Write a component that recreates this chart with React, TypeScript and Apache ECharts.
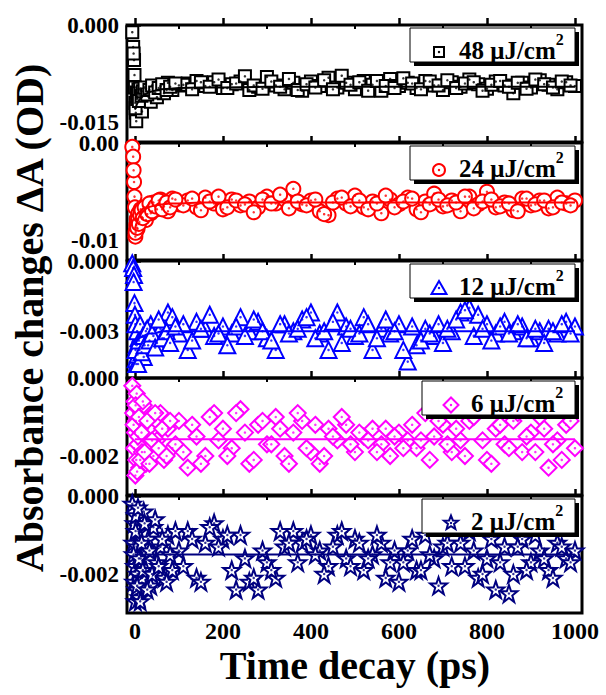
import React, { useEffect, useRef } from "react";
import * as echarts from "echarts";

// ---- data ----
const T = [
  -6, -4, -2, -1, 0, 1, 2, 3, 4, 6,
  8, 10, 13, 16, 20, 25, 30, 36, 42, 50,
  58, 66, 75, 85, 100, 120, 140, 160, 180, 200,
  220, 240, 260, 280, 300, 320, 340, 360, 380, 400,
  420, 440, 460, 480, 500, 520, 540, 560, 580, 600,
  620, 640, 660, 680, 700, 720, 740, 760, 780, 800,
  820, 840, 860, 880, 900, 920, 940, 960, 980, 1000,
];
const T_B = [
  110, 130, 150, 170, 190, 210, 230, 250, 270, 290,
  310, 330, 350, 370, 390, 410, 430, 450, 470, 490,
  510, 530, 550, 570, 590, 610, 630, 650, 670, 690,
  710, 730, 750, 770, 790, 810, 830, 850, 870, 890,
  910, 930, 950, 970, 990,
];
const T_E = [-3, 1.5, 5, 7, 9, 12, 15, 18, 22, 28, 33, 39, 46, 54, 62, 72, 80, 92];

const A48 = [
  -0.0011, -0.0034, -0.0054, -0.0077, -0.0096, -0.012, -0.0135, -0.0148, -0.0104, -0.0112,
  -0.0099, -0.0108, -0.0101, -0.0133, -0.0106, -0.0098, -0.011, -0.0118, -0.0102, -0.0111,
  -0.0094, -0.0105, -0.0089, -0.01, -0.0093, -0.009, -0.0086, -0.0094, -0.0088, -0.0097,
  -0.0091, -0.0087, -0.01, -0.0095, -0.008, -0.0093, -0.0099, -0.0089, -0.0101, -0.0087,
  -0.0094, -0.0081, -0.0096, -0.0089, -0.0099, -0.0086, -0.0092, -0.0101, -0.0083, -0.0094,
  -0.0089, -0.0097, -0.0086, -0.0093, -0.01, -0.0088, -0.0095, -0.0084, -0.0091, -0.0098,
  -0.0087, -0.0093, -0.0105, -0.0089, -0.0096, -0.0085, -0.0092, -0.0099, -0.0088, -0.0094,
];
const A48_B = [
  -0.0092, -0.0099, -0.0088, -0.0095, -0.0084, -0.0097, -0.009, -0.0079, -0.0093, -0.0098,
  -0.0087, -0.0095, -0.0083, -0.01, -0.0091, -0.0096, -0.0085, -0.0099, -0.0078, -0.0092,
  -0.0088, -0.0101, -0.0086, -0.0094, -0.0097, -0.0082, -0.009, -0.0099, -0.0087, -0.0093,
  -0.0085, -0.0097, -0.009, -0.0088, -0.0101, -0.0092, -0.0086, -0.0095, -0.0089, -0.0098,
  -0.0084, -0.0091, -0.0096, -0.0087, -0.0093,
];
const A48_E = [-0.0044, -0.0128, -0.0114, -0.0105, -0.0117, -0.0098, -0.0109, -0.0102, -0.0096, -0.0107, -0.01, -0.0093, -0.0104, -0.0097, -0.0091, -0.01, -0.0095, -0.009];

const A24 = [
  -0.0004, -0.0014, -0.004, -0.0055, -0.0066, -0.0096, -0.009, -0.0084, -0.0078, -0.0088,
  -0.0072, -0.0081, -0.0068, -0.0076, -0.007, -0.0079, -0.0064, -0.0072, -0.0061, -0.0068,
  -0.0058, -0.0065, -0.007, -0.0057, -0.0063, -0.0059, -0.0066, -0.0056, -0.0062, -0.0068,
  -0.0058, -0.0064, -0.006, -0.0066, -0.0055, -0.0062, -0.0058, -0.0047, -0.0063, -0.0059,
  -0.007, -0.0074, -0.0057, -0.0062, -0.0054, -0.0066, -0.006, -0.0072, -0.0058, -0.0063,
  -0.0056, -0.0068, -0.006, -0.0052, -0.0065, -0.0059, -0.007, -0.0055, -0.0063, -0.005,
  -0.0066, -0.0061, -0.0069, -0.0057, -0.0064, -0.0059, -0.0067, -0.0056, -0.0062, -0.0059,
];
const A24_B = [
  -0.0064, -0.0057, -0.0069, -0.006, -0.0055, -0.0066, -0.0059, -0.0063, -0.0071, -0.0058,
  -0.0062, -0.0053, -0.0067, -0.006, -0.0064, -0.0058, -0.0073, -0.0061, -0.0056, -0.0065,
  -0.0059, -0.0068, -0.0062, -0.0054, -0.0066, -0.006, -0.0057, -0.0071, -0.0063, -0.0058,
  -0.0064, -0.0061, -0.0055, -0.0067, -0.006, -0.0058, -0.0065, -0.0062, -0.007, -0.0057,
  -0.0063, -0.0059, -0.0066, -0.0061, -0.0064,
];
const A24_E = [-0.0028, -0.0092, -0.0087, -0.0079, -0.0083, -0.0074, -0.0069, -0.0077, -0.0066, -0.0073, -0.0062, -0.007, -0.0065, -0.0059, -0.0068, -0.0061, -0.0066, -0.0058];

const A12 = [
  -0.0001, -0.0003, -0.0006, -0.0018, -0.0023, -0.0027, -0.0042, -0.0044, -0.0036, -0.004,
  -0.0033, -0.0038, -0.0031, -0.0035, -0.0041, -0.003, -0.0036, -0.0027, -0.0032, -0.0035,
  -0.0029, -0.0033, -0.0022, -0.0024, -0.0031, -0.0038, -0.0026, -0.0029, -0.0032, -0.0028,
  -0.0031, -0.0024, -0.003, -0.0026, -0.0033, -0.0038, -0.0027, -0.003, -0.0025, -0.0022,
  -0.0031, -0.0038, -0.0022, -0.0028, -0.0032, -0.0024, -0.0038, -0.0029, -0.0031, -0.0027,
  -0.0043, -0.0036, -0.0029, -0.0032, -0.0035, -0.003, -0.0022, -0.002, -0.0023, -0.0027,
  -0.0031, -0.0026, -0.003, -0.0028, -0.0033, -0.003, -0.0029, -0.0031, -0.0026, -0.0028,
];
const A12_B = [
  -0.0027, -0.0034, -0.0029, -0.0023, -0.0031, -0.0036, -0.0028, -0.0032, -0.0025, -0.003,
  -0.0034, -0.0027, -0.0031, -0.0029, -0.0024, -0.0033, -0.003, -0.0026, -0.0035, -0.0029,
  -0.0031, -0.0027, -0.0033, -0.0025, -0.003, -0.0038, -0.0028, -0.0034, -0.0031, -0.0027,
  -0.0029, -0.0025, -0.0021, -0.0032, -0.0029, -0.0034, -0.0028, -0.0031, -0.0027, -0.0033,
  -0.0029, -0.0035, -0.003, -0.0027, -0.0031,
];
const A12_E = [-0.0009, -0.0038, -0.003, -0.0044, -0.0034, -0.0027, -0.0039, -0.0032, -0.0036, -0.0029, -0.0034, -0.0031, -0.0037, -0.0025, -0.0033, -0.003, -0.0035, -0.0028];

const A6 = [
  -0.0002, -0.0009, -0.0018, -0.0006, -0.0014, -0.0025, -0.0011, -0.0021, -0.0004, -0.0017,
  -0.0008, -0.0023, -0.0012, -0.0019, -0.0007, -0.0022, -0.0013, -0.001, -0.002, -0.0016,
  -0.0009, -0.0021, -0.0013, -0.0018, -0.0011, -0.0023, -0.0015, -0.002, -0.0009, -0.0013,
  -0.0018, -0.0008, -0.0022, -0.0012, -0.0017, -0.001, -0.002, -0.0014, -0.0011, -0.0019,
  -0.0022, -0.0013, -0.0016, -0.0012, -0.0019, -0.0015, -0.0013, -0.0017, -0.002, -0.0014,
  -0.0016, -0.0018, -0.0009, -0.0015, -0.0012, -0.0019, -0.0016, -0.0011, -0.0008, -0.0021,
  -0.0013, -0.0017, -0.0011, -0.0019, -0.0014, -0.001, -0.0023, -0.0016, -0.0012, -0.0018,
];
const A6_B = [
  -0.0019, -0.0012, -0.0022, -0.001, -0.0016, -0.002, -0.0009, -0.0014, -0.0021, -0.0011,
  -0.0017, -0.0013, -0.0022, -0.0009, -0.0018, -0.0012, -0.002, -0.0015, -0.001, -0.0017,
  -0.0014, -0.0016, -0.0019, -0.0013, -0.0015, -0.0018, -0.0012, -0.0016, -0.0021, -0.0011,
  -0.0017, -0.0013, -0.002, -0.001, -0.0016, -0.0022, -0.0012, -0.0018, -0.0009, -0.0015,
  -0.0019, -0.0013, -0.0017, -0.0021, -0.0011,
];
const A6_E = [-0.0012, -0.0007, -0.0024, -0.0015, -0.001, -0.0021, -0.0014, -0.0006, -0.0019, -0.0011, -0.0022, -0.0016, -0.0009, -0.0018, -0.0013, -0.002, -0.0011, -0.0017];

const A2 = [
  -0.0002, -0.0012, -0.0022, -0.0007, -0.0018, -0.0027, -0.0005, -0.0024, -0.0013, -0.002,
  -0.0009, -0.0026, -0.0016, -0.0021, -0.0004, -0.0019, -0.0011, -0.0023, -0.0008, -0.0017,
  -0.0013, -0.0021, -0.001, -0.0019, -0.0014, -0.0009, -0.0021, -0.0012, -0.0007, -0.0011,
  -0.0019, -0.001, -0.0022, -0.0024, -0.0017, -0.0021, -0.0013, -0.0009, -0.0012, -0.001,
  -0.0014, -0.0018, -0.001, -0.0016, -0.0011, -0.0019, -0.0015, -0.0012, -0.0017, -0.0022,
  -0.0014, -0.0019, -0.001, -0.0016, -0.0013, -0.0018, -0.0012, -0.0009, -0.0021, -0.0016,
  -0.0024, -0.0013, -0.002, -0.0011, -0.0017, -0.0014, -0.0019, -0.0012, -0.0016, -0.0014,
];
const A2_B = [
  -0.0018, -0.0011, -0.0022, -0.0008, -0.0013, -0.001, -0.0024, -0.0016, -0.0021, -0.0014,
  -0.0019, -0.0009, -0.0012, -0.0017, -0.0011, -0.0015, -0.002, -0.0013, -0.0009, -0.0018,
  -0.0012, -0.0016, -0.001, -0.0021, -0.0014, -0.0017, -0.0011, -0.0019, -0.0015, -0.0023,
  -0.0012, -0.0008, -0.0018, -0.0014, -0.002, -0.0011, -0.0017, -0.0025, -0.0013, -0.0019,
  -0.001, -0.0016, -0.0021, -0.0013, -0.0017,
];
const A2_E = [-0.0015, -0.0009, -0.0023, -0.0003, -0.0016, -0.0027, -0.0012, -0.0019, -0.0007, -0.0024, -0.0014, -0.002, -0.0006, -0.0018, -0.0011, -0.0022, -0.0015, -0.0009];

const FIT_T = [0, 5, 10, 20, 30, 45, 60, 80, 100, 150, 200, 300, 500, 750, 1000];
const FIT48 = [-0.013, -0.0121, -0.0115, -0.0108, -0.0104, -0.0101, -0.0099, -0.0098, -0.0097, -0.0096, -0.0096, -0.0095, -0.0095, -0.0095, -0.0095];
const FIT24 = [-0.0088, -0.008, -0.0075, -0.0069, -0.0066, -0.0064, -0.0063, -0.0062, -0.0062, -0.0061, -0.0061, -0.0061, -0.0061, -0.0061, -0.0061];
const FIT12 = [-0.0036, -0.0034, -0.0033, -0.0032, -0.0031, -0.0031, -0.003, -0.003, -0.003, -0.003, -0.003, -0.003, -0.003, -0.003, -0.003];
const FIT6 = [-0.00157, -0.00157, -0.00157, -0.00157, -0.00157, -0.00157, -0.00157, -0.00157, -0.00157, -0.00157, -0.00157, -0.00157, -0.00157, -0.00157, -0.00157];
const FIT2 = [-0.0015, -0.0015, -0.0015, -0.0015, -0.0015, -0.0015, -0.0015, -0.0015, -0.0015, -0.0015, -0.0015, -0.0015, -0.0015, -0.0015, -0.0015];

const LEGEND_VALUES = ["48", "24", "12", "6", "2"];
const X_MAJOR = [0, 200, 400, 600, 800, 1000];
const X_MINOR = [100, 300, 500, 700, 900];
const Y_MIN = [-0.018, -0.012, -0.005, -0.003, -0.003];
const Y_MAX = [0, 0, 0, 0, 0];
const Y_TICKS = [[0, -0.015], [0, -0.01], [0, -0.003], [0, -0.002], [0, -0.002]];
const Y_DECIMALS = [3, 2, 3, 3, 3];

const X_TITLE = "Time decay (ps)";
const Y_TITLE = "Absorbance changes \u0394A (OD)";

// ---- style ----
const FONT = "'Liberation Serif', 'Times New Roman', serif";
const STAR_PATH =
  "path://M50,2 L61.8,35.5 L97.6,35.5 L68.6,57.3 L79.4,91.5 L50,70.5 L20.6,91.5 L31.4,57.3 L2.4,35.5 L38.2,35.5 Z";
const PANEL_TOPS = [25, 143, 261, 378, 496];
const PANEL_H = 117;
const LEFT = 127;
const RIGHT = 24;

const STYLES = [
  { color: "#000000", symbol: "rect", size: 12, kind: "rect" },
  { color: "#ff0000", symbol: "circle", size: 14, kind: "circle" },
  { color: "#0000ff", symbol: "triangle", size: 16, kind: "triangle" },
  { color: "#ff00ff", symbol: "diamond", size: 16, kind: "diamond" },
  { color: "#000080", symbol: STAR_PATH, size: 17, kind: "star" },
];

const SERIES_MAIN = [A48, A24, A12, A6, A2];
const SERIES_B = [A48_B, A24_B, A12_B, A6_B, A2_B];
const SERIES_E = [A48_E, A24_E, A12_E, A6_E, A2_E];
const FIT_DATA = [FIT48, FIT24, FIT12, FIT6, FIT2];

function legendIcon(kind: string, cx: number, cy: number, color: string) {
  const style = { fill: "#ffffff", stroke: color, lineWidth: 2 };
  if (kind === "rect") {
    return { type: "rect", shape: { x: cx - 5, y: cy - 5, width: 10, height: 10 }, style, z: 103 };
  }
  if (kind === "circle") {
    return { type: "circle", shape: { cx, cy, r: 6 }, style, z: 103 };
  }
  if (kind === "triangle") {
    return { type: "polygon", shape: { points: [[cx, cy - 7], [cx + 7.5, cy + 6], [cx - 7.5, cy + 6]] }, style, z: 103 };
  }
  if (kind === "diamond") {
    return { type: "polygon", shape: { points: [[cx, cy - 7.5], [cx + 7.5, cy], [cx, cy + 7.5], [cx - 7.5, cy]] }, style, z: 103 };
  }
  const pts: number[][] = [];
  for (let k = 0; k < 10; k++) {
    const r = k % 2 === 0 ? 7.5 : 3.2;
    const a = -Math.PI / 2 + (k * Math.PI) / 5;
    pts.push([cx + r * Math.cos(a), cy + r * Math.sin(a)]);
  }
  return { type: "polygon", shape: { points: pts }, style, z: 103 };
}

export default function App() {
  const ref = useRef<HTMLDivElement>(null);

  useEffect(() => {
    if (!ref.current) return;
    const chart = echarts.init(ref.current, null, { renderer: "svg" });

    const grid: any[] = [];
    const xAxis: any[] = [];
    const yAxis: any[] = [];
    const series: any[] = [];
    const graphic: any[] = [];

    for (let i = 0; i < 5; i++) {
      const st = STYLES[i];
      grid.push({
        left: LEFT,
        right: RIGHT,
        top: PANEL_TOPS[i],
        height: PANEL_H,
        show: true,
        borderColor: "#000",
        borderWidth: 3,
        backgroundColor: "transparent",
        containLabel: false,
      });
      xAxis.push({
        type: "value",
        gridIndex: i,
        min: -18,
        max: 1016,
        axisLine: { show: false },
        splitLine: { show: false },
        axisTick: {
          show: true,
          inside: true,
          length: 7,
          customValues: X_MAJOR,
          lineStyle: { color: "#000", width: 2.5 },
        },
        axisLabel: {
          show: i === 4,
          customValues: X_MAJOR,
          margin: 8,
          color: "#000",
          fontFamily: FONT,
          fontWeight: "bold",
          fontSize: 24,
          lineHeight: 20,
          formatter: (v: number) => String(v),
        },
      });
      xAxis.push({
        type: "value",
        gridIndex: i,
        min: -18,
        max: 1016,
        axisLine: { show: false },
        splitLine: { show: false },
        axisTick: {
          show: true,
          inside: true,
          length: 4,
          customValues: X_MINOR,
          lineStyle: { color: "#000", width: 2 },
        },
        axisLabel: { show: false },
      });
      const dec = Y_DECIMALS[i];
      yAxis.push({
        type: "value",
        gridIndex: i,
        min: Y_MIN[i],
        max: Y_MAX[i],
        axisLine: { show: false },
        splitLine: { show: false },
        axisTick: {
          show: true,
          inside: true,
          length: 6,
          customValues: Y_TICKS[i],
          lineStyle: { color: "#000", width: 2.5 },
        },
        axisLabel: {
          customValues: Y_TICKS[i],
          margin: 8,
          color: "#000",
          fontFamily: FONT,
          fontWeight: "bold",
          fontSize: 23,
          lineHeight: 16,
          formatter: (v: number) => v.toFixed(dec),
        },
      });

      const pts = [
        ...T.map((t, k) => [t, SERIES_MAIN[i][k]]),
        ...T_B.map((t, k) => [t, SERIES_B[i][k]]),
        ...T_E.map((t, k) => [t, SERIES_E[i][k]]),
      ];
      series.push({
        type: "scatter",
        xAxisIndex: i * 2,
        yAxisIndex: i,
        data: pts,
        symbol: st.symbol,
        symbolSize: st.size,
        clip: false,
        silent: true,
        itemStyle: { color: "#ffffff", borderColor: st.color, borderWidth: 2, opacity: 1 },
        z: 2,
      });
      series.push({
        type: "line",
        xAxisIndex: i * 2,
        yAxisIndex: i,
        data: FIT_T.map((t, k) => [t, FIT_DATA[i][k]]),
        showSymbol: false,
        smooth: false,
        silent: true,
        lineStyle: { color: st.color, width: 2 },
        z: 3,
      });
      series.push({
        type: "scatter",
        xAxisIndex: i * 2,
        yAxisIndex: i,
        data: pts,
        symbol: "circle",
        symbolSize: 2.5,
        clip: false,
        silent: true,
        itemStyle: { color: st.color },
        z: 4,
      });

      // legend box
      const label = LEGEND_VALUES[i];
      const textLeft = label.length === 2 ? 459 : 471;
      const boxTop = PANEL_TOPS[i] + 3;
      const boxLeft = textLeft - 49;
      const boxRight = 575;
      const boxH = 34;
      graphic.push({
        type: "rect",
        shape: { x: boxLeft + 4, y: boxTop + 4, width: boxRight - boxLeft, height: boxH },
        style: { fill: "#000" },
        z: 100,
      });
      graphic.push({
        type: "rect",
        shape: { x: boxLeft, y: boxTop, width: boxRight - boxLeft, height: boxH },
        style: { fill: "#fff", stroke: "#000", lineWidth: 1 },
        z: 101,
      });
      const iconY = boxTop + 24;
      graphic.push(legendIcon(st.kind, textLeft - 20, iconY, st.color));
      graphic.push({
        type: "circle",
        shape: { cx: textLeft - 20, cy: iconY, r: 1.2 },
        style: { fill: st.color },
        z: 104,
      });
      graphic.push({
        type: "text",
        x: textLeft,
        y: boxTop + 22,
        z: 104,
        style: {
          text: "{m|" + label + " \u03bcJ/cm}{s|2}",
          fill: "#000",
          fontFamily: FONT,
          fontWeight: "bold",
          fontSize: 25,
          textAlign: "left",
          textVerticalAlign: "middle",
          rich: {
            m: { fontFamily: FONT, fontWeight: "bold", fontSize: 25, lineHeight: 38, fill: "#000" },
            s: { fontFamily: FONT, fontWeight: "bold", fontSize: 16, lineHeight: 16, verticalAlign: "top", fill: "#000" },
          },
        },
      });
    }

    graphic.push({
      type: "text",
      x: 355,
      y: 665,
      z: 100,
      style: {
        text: X_TITLE,
        fill: "#000",
        fontFamily: FONT,
        fontWeight: "bold",
        fontSize: 40,
        textAlign: "center",
        textVerticalAlign: "middle",
      },
    });
    graphic.push({
      type: "text",
      x: 29,
      y: 318,
      rotation: Math.PI / 2,
      z: 100,
      style: {
        text: Y_TITLE,
        fill: "#000",
        fontFamily: FONT,
        fontWeight: "bold",
        fontSize: 40,
        textAlign: "center",
        textVerticalAlign: "middle",
      },
    });

    chart.setOption({
      animation: false,
      backgroundColor: "#ffffff",
      grid,
      xAxis,
      yAxis,
      series,
      graphic,
    });

    return () => {
      chart.dispose();
    };
  }, []);

  return (
    <div
      ref={ref}
      style={{ width: 606, height: 695, position: "absolute", left: 0, top: 0 }}
    />
  );
}
